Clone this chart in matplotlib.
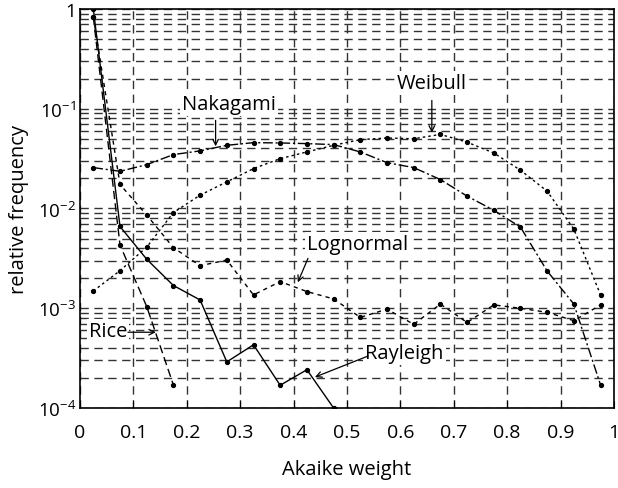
import numpy as np
import matplotlib.pyplot as plt

plt.rcParams['font.family'] = ['Open Sans', 'DejaVu Sans']
plt.rcParams['mathtext.fontset'] = 'custom'
plt.rcParams['mathtext.rm'] = 'Open Sans'
plt.rcParams['mathtext.it'] = 'Open Sans'

# bin centres of the Akaike weight histogram (bin width 0.05)
centers = np.arange(0.025, 1.0, 0.05)

rayleigh = [1.0, 0.0066, 0.0031, 0.00169, 0.00121, 0.00029, 0.00043, 0.000169, 0.000242, 0.0001]
rice = [0.83, 0.0043, 0.00104, 0.00017]
nakagami = [0.0257, 0.0236, 0.0275, 0.0347, 0.0378, 0.043, 0.0457, 0.0454, 0.0447, 0.0437,
            0.0369, 0.0288, 0.0257, 0.0195, 0.0133, 0.0096, 0.0065, 0.00236, 0.0011, 0.00017]
weibull = [0.00149, 0.00238, 0.0041, 0.0091, 0.0136, 0.0185, 0.0251, 0.0316, 0.0369, 0.043,
           0.049, 0.0509, 0.050, 0.0553, 0.0462, 0.036, 0.0242, 0.0149, 0.0062, 0.00136]
lognormal = [0.83, 0.0174, 0.0086, 0.00405, 0.00267, 0.00304, 0.00136, 0.00185, 0.00147, 0.00124,
             0.00081, 0.00098, 0.00069, 0.0011, 0.00072, 0.00108, 0.0010, 0.00091, 0.00075, 0.00108]

fig = plt.figure(figsize=(6.18, 4.89), dpi=100)
ax = fig.add_axes([0.1294, 0.1636, 0.864, 0.816])

mk = dict(marker='o', markersize=2.8, color='black', linewidth=1.0, zorder=3)
ax.plot(centers[:len(rayleigh)], rayleigh, linestyle='-', **mk)
ax.plot(centers[:len(rice)], rice, linestyle=(0, (6, 3)), **mk)
ax.plot(centers, nakagami, linestyle=(0, (7, 2, 1.5, 2)), **mk)
ax.plot(centers, weibull, linestyle=(0, (1.8, 2.2)), **mk)
ax.plot(centers, lognormal, linestyle=(0, (3, 3)), **mk)

ax.set_yscale('log')
ax.set_xlim(0, 1)
ax.set_ylim(1e-4, 1)

ax.set_xticks(np.arange(0, 1.01, 0.1))
ax.set_xticklabels(['0', '0.1', '0.2', '0.3', '0.4', '0.5', '0.6', '0.7', '0.8', '0.9', '1'])
ax.set_yticks([1e-4, 1e-3, 1e-2, 1e-1, 1])
ax.set_yticklabels(['10$^{-4}$', '10$^{-3}$', '10$^{-2}$', '10$^{-1}$', '1'])
ax.tick_params(axis='x', which='major', direction='in', length=5, pad=11, labelsize=14)
ax.tick_params(axis='y', which='major', direction='in', length=0, pad=3, labelsize=13.5)
ax.tick_params(axis='y', which='minor', length=0, labelleft=False)

ax.grid(True, which='major', axis='x', linestyle=(0, (6, 4)), color='#333333', linewidth=1.0)
ax.grid(True, which='both', axis='y', linestyle=(0, (6, 4)), color='#333333', linewidth=1.0)
for s in ax.spines.values():
    s.set_linewidth(1.2)

ax.set_xlabel('Akaike weight', fontsize=14.5, labelpad=13)
ax.set_ylabel('relative frequency', fontsize=14.5, labelpad=6)

# curve labels sit on white patches so the grid is broken behind them
box = dict(facecolor='white', edgecolor='none', pad=1.5)
arrow = dict(arrowstyle='->', color='black', linewidth=0.9, shrinkA=0, shrinkB=0)
labels = [
    ('Nakagami', (0.279, 0.112), (0.254, 0.0764), (0.254, 0.042)),
    ('Weibull', (0.659, 0.182), (0.659, 0.121), (0.659, 0.0575)),
    ('Lognormal', (0.519, 0.00437), (0.427, 0.00316), (0.408, 0.00182)),
    ('Rice', (0.053, 0.00059), (0.0899, 0.000575), (0.142, 0.000575)),
    ('Rayleigh', (0.608, 0.000355), (0.539, 0.000331), (0.44, 0.000204)),
]
for name, pos, tail, head in labels:
    ax.text(pos[0], pos[1], name, fontsize=14.5, ha='center', va='center', bbox=box, zorder=4)
    ax.annotate('', xy=head, xytext=tail, arrowprops=arrow, zorder=4)

fig.savefig('out.png', dpi=100)
